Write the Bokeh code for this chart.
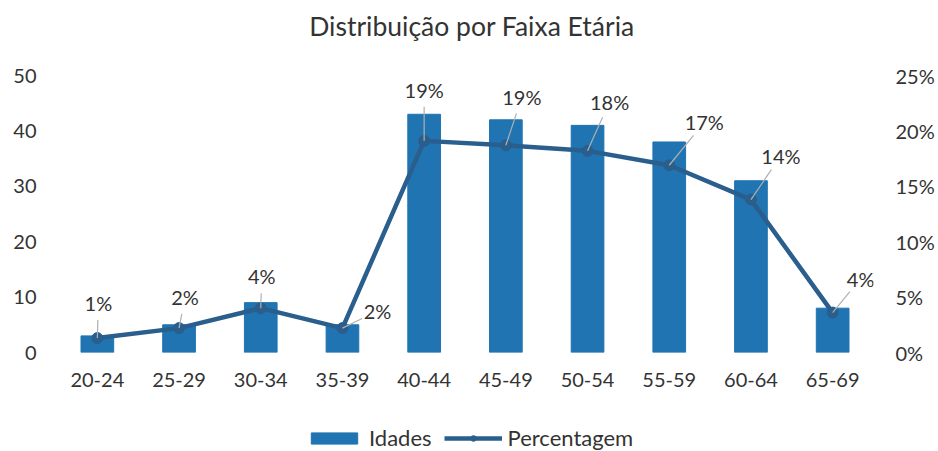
import math
from bokeh.plotting import figure
from bokeh.layouts import column
from bokeh.models import (FactorRange, Range1d, LinearAxis, Legend, LegendItem,
                          ColumnDataSource, PrintfTickFormatter, FixedTicker)
from bokeh.core.properties import value
from bokeh.embed import file_html
from bokeh.resources import INLINE

# ---- data ----
categories = ["20-24", "25-29", "30-34", "35-39", "40-44",
              "45-49", "50-54", "55-59", "60-64", "65-69"]
idades = [3, 5, 9, 5, 43, 42, 41, 38, 31, 8]
percentagem = [1.3, 2.2, 4.0, 2.2, 19.1, 18.7, 18.2, 16.9, 13.8, 3.6]
pct_labels = ["1%", "2%", "4%", "2%", "19%", "19%", "18%", "17%", "14%", "4%"]
left_ticks = [0, 10, 20, 30, 40, 50]
right_ticks = [0, 5, 10, 15, 20, 25]
title_text = "Distribuição por Faixa Etária"
series_names = ["Idades", "Percentagem"]

# ---- styles ----
label_dx = [1, 6, 1, 35, 0, 16, 22, 35, 30, 28]
label_dy = [-35, -31, -32, -17, -51, -48, -49, -43, -44, -34]
BAR = "#1f74b1"
LINE = "#2a5e8c"
TXT = "#333333"
FONT = "Lato"
W = 938


def strip(height, x_range, y_range):
    fig = figure(width=W, height=height, x_range=x_range, y_range=y_range,
                 x_axis_location=None, y_axis_location=None,
                 output_backend="svg", toolbar_location=None,
                 min_border_left=0, min_border_right=0, min_border_top=0, min_border_bottom=0)
    fig.grid.visible = False
    fig.outline_line_color = None
    fig.background_fill_color = "white"
    fig.border_fill_color = "white"
    return fig


src = ColumnDataSource(dict(cat=categories, idades=idades, pct=percentagem,
                            lab=pct_labels, dx=label_dx, dy=label_dy,
                            ang=[math.atan2(-dy, dx) for dx, dy in zip(label_dx, label_dy)],
                            ln=[max(math.hypot(dx, dy) - 17, 4) for dx, dy in zip(label_dx, label_dy)]))

# ---- title strip ----
pt = strip(60, Range1d(0, W), Range1d(0, 60))
pt.text(x=[477], y=[35], text=[title_text], text_align="center", text_baseline="middle",
        text_font=value(FONT), text_font_size="26.5px", text_color=TXT)

# ---- main chart ----
p = figure(x_range=FactorRange(*categories, range_padding=0), y_range=Range1d(0, 50),
           frame_width=817, frame_height=277, output_backend="svg", toolbar_location=None,
           min_border_left=56, min_border_right=65, min_border_top=15, min_border_bottom=45)
p.extra_y_ranges = {"pct": Range1d(0, 25)}
p.outline_line_color = None
p.background_fill_color = "white"
p.border_fill_color = "white"
p.xgrid.grid_line_color = None
p.ygrid.grid_line_color = None

p.vbar(x="cat", top="idades", width=0.4, source=src, color=BAR, line_color=BAR)
p.line(x="cat", y="pct", source=src, y_range_name="pct", line_color=LINE, line_width=4.5)
p.scatter(x="cat", y="pct", source=src, y_range_name="pct", size=11,
          fill_color=LINE, line_color=LINE)
p.ray(x="cat", y="pct", source=src, y_range_name="pct", length="ln", length_units="screen",
      angle="ang", line_color="#b0b0b0", line_width=1.2)
p.text(x="cat", y="pct", text="lab", source=src, y_range_name="pct",
       x_offset="dx", y_offset="dy", text_align="center", text_baseline="middle",
       text_font=value(FONT), text_font_size="20px", text_color=TXT)

p.yaxis.ticker = FixedTicker(ticks=left_ticks)
right = LinearAxis(y_range_name="pct", ticker=FixedTicker(ticks=right_ticks),
                   formatter=PrintfTickFormatter(format="%d%%"))
p.add_layout(right, "right")
for ax in [p.yaxis[0], right, p.xaxis[0]]:
    ax.axis_line_color = None
    ax.major_tick_line_color = None
    ax.minor_tick_line_color = None
    ax.major_tick_out = 0
    ax.major_tick_in = 0
    ax.minor_tick_out = 0
    ax.major_label_text_font = FONT
    ax.major_label_text_font_size = "20px"
    ax.major_label_text_color = TXT
p.yaxis[0].major_label_standoff = 20
right.major_label_standoff = 22
p.xaxis[0].major_label_standoff = 20

# ---- legend strip (same series, drawn outside this strip's visible range) ----
pl = strip(54, FactorRange(*categories, range_padding=0), Range1d(1000, 1001))
lb = pl.vbar(x="cat", top="idades", width=0.4, source=src, color=BAR, line_color=BAR)
ll = pl.line(x="cat", y="pct", source=src, line_color=LINE, line_width=4.5)
lp = pl.scatter(x="cat", y="pct", source=src, size=11, fill_color=LINE, line_color=LINE)
legend = Legend(items=[LegendItem(label=series_names[0], renderers=[lb]),
                       LegendItem(label=series_names[1], renderers=[ll, lp])],
                orientation="horizontal", location=(249, 0),
                label_text_font=FONT, label_text_font_size="22px", label_text_color=TXT,
                glyph_width=58, glyph_height=14, spacing=12, label_standoff=6,
                border_line_color=None, background_fill_alpha=0, margin=0, padding=1)
pl.add_layout(legend)

layout = column(pt, p, pl, spacing=0)
open("out.html", "w").write(file_html(layout, INLINE))
